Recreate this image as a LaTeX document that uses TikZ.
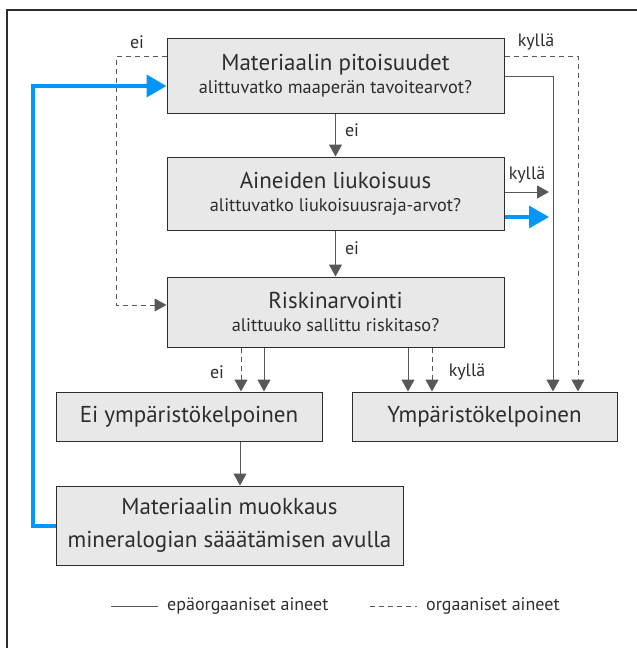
\documentclass[tikz,border=0pt]{standalone}
\usepackage{fontspec}
\setmainfont{PT Sans}
\usetikzlibrary{positioning}
\usetikzlibrary{arrows.meta}

\definecolor{boxgray}{RGB}{232,232,232}
\definecolor{linegray}{RGB}{88,88,88}
\definecolor{textgray}{RGB}{45,45,45}
\definecolor{loopblue}{RGB}{0,150,255}

\newcommand{\boxhead}{\fontsize{23}{25}\selectfont}
\newcommand{\boxsub}{\fontsize{18.3}{22}\selectfont}

\begin{document}
\begin{tikzpicture}[
        x = 1pt, y = -1pt, % pixel grid, y runs downwards
        > = {Triangle[length=12pt,width=13pt]}, % arrow head style
        box/.style = {draw=textgray, fill=boxgray, line width=1pt,
                      align=center, text=textgray, inner sep=0pt, font=\boxhead},
        inorg/.style = {draw=linegray, line width=1pt}, % solid line
        org/.style = {draw=linegray, line width=1pt, dash pattern=on 5pt off 4pt}, % dashed line
        feedback/.style = {draw=loopblue, line width=4pt,
                           -{Triangle[length=20pt,width=22pt]}},
        lbl/.style = {text=textgray, font=\fontsize{18}{21}\selectfont, inner sep=0pt}
        ]

  \useasboundingbox (0,0) rectangle (637,648);
  \draw[draw=textgray, line width=1.2pt] (7,648) -- (7,10) -- (637,10);

  \node[box, minimum width=337pt, minimum height=75pt] (pit) at (335.5,75.5)
       {Materiaalin pitoisuudet\\[-2pt]\boxsub alittuvatko maaperän tavoitearvot?};
  \node[box, minimum width=337pt, minimum height=73pt] (liuk) at (335.5,193.5)
       {Aineiden liukoisuus\\[-2pt]\boxsub alittuvatko liukoisuusraja-arvot?};
  \node[box, minimum width=337pt, minimum height=70pt] (risk) at (335.5,312)
       {Riskinarvointi\\[-2pt]\boxsub alittuuko sallittu riskitaso?};
  \node[box, minimum width=266pt, minimum height=49pt] (eikelp) at (189,416.5)
       {Ei ympäristökelpoinen};
  \node[box, minimum width=265pt, minimum height=49pt] (kelp) at (484.5,416.5)
       {Ympäristökelpoinen};
  \node[box, minimum width=347pt, minimum height=79pt] (muok) at (229.5,525.5)
       {Materiaalin muokkaus\\[8pt]mineralogian sääätämisen avulla};

  % free ends and corners
  \coordinate (dl1) at (116,56);
  \coordinate (dl2) at (116,305);
  \coordinate (dr) at (578,56);
  \coordinate (sr) at (553,76);
  \coordinate (k1) at (549,192);
  \coordinate (k2) at (549,217);
  \coordinate (bl) at (33,86);

  \draw[inorg,->] (pit) -- (liuk);
  \draw[inorg,->] (liuk) -- (risk);

  \draw[org,->] (pit.west |- dl1) -- (dl1) -- (dl2) -- (risk.west |- dl2);
  \draw[org,->] (pit.east |- dr) -- (dr) -- (dr |- kelp.north);
  \draw[inorg,->] (pit.east |- sr) -- (sr) -- (sr |- kelp.north);

  \draw[inorg,->] (liuk.east |- k1) -- (k1);
  \draw[feedback, line width=3.5pt] (liuk.east |- k2) -- (k2);

  \draw[org,->] (risk.south -| 241,0) -- (eikelp.north -| 241,0);
  \draw[inorg,->] (risk.south -| 264,0) -- (eikelp.north -| 264,0);
  \draw[inorg,->] (risk.south -| 408,0) -- (kelp.north -| 408,0);
  \draw[org,->] (risk.south -| 432,0) -- (kelp.north -| 432,0);

  \draw[inorg,->] (eikelp.south -| 240,0) -- (muok.north -| 240,0);
  \draw[feedback] (muok.west) -| (bl) -- (pit.west |- bl);

  \node[lbl] (ei1) at (137,42) {ei};
  \node[lbl] (kyl1) at (536,42) {kyllä};
  \node[lbl] (ei2) at (352,130) {ei};
  \node[lbl] (ei3) at (352,248) {ei};
  \node[lbl] (kyl2) at (527,175) {kyllä};
  \node[lbl] (ei4) at (217,372) {ei};
  \node[lbl] (kyl3) at (467,372) {kyllä};

  % legend
  \coordinate (lg1) at (111,606);
  \coordinate (lg2) at (158,606);
  \coordinate (lg3) at (370,606);
  \coordinate (lg4) at (417,606);
  \draw[inorg] (lg1) -- (lg2);
  \node[lbl, anchor=west] (inorgtxt) at (167,606) {epäorgaaniset aineet};
  \draw[org] (lg3) -- (lg4);
  \node[lbl, anchor=west] (orgtxt) at (426,606) {orgaaniset aineet};

\end{tikzpicture}
\end{document}
